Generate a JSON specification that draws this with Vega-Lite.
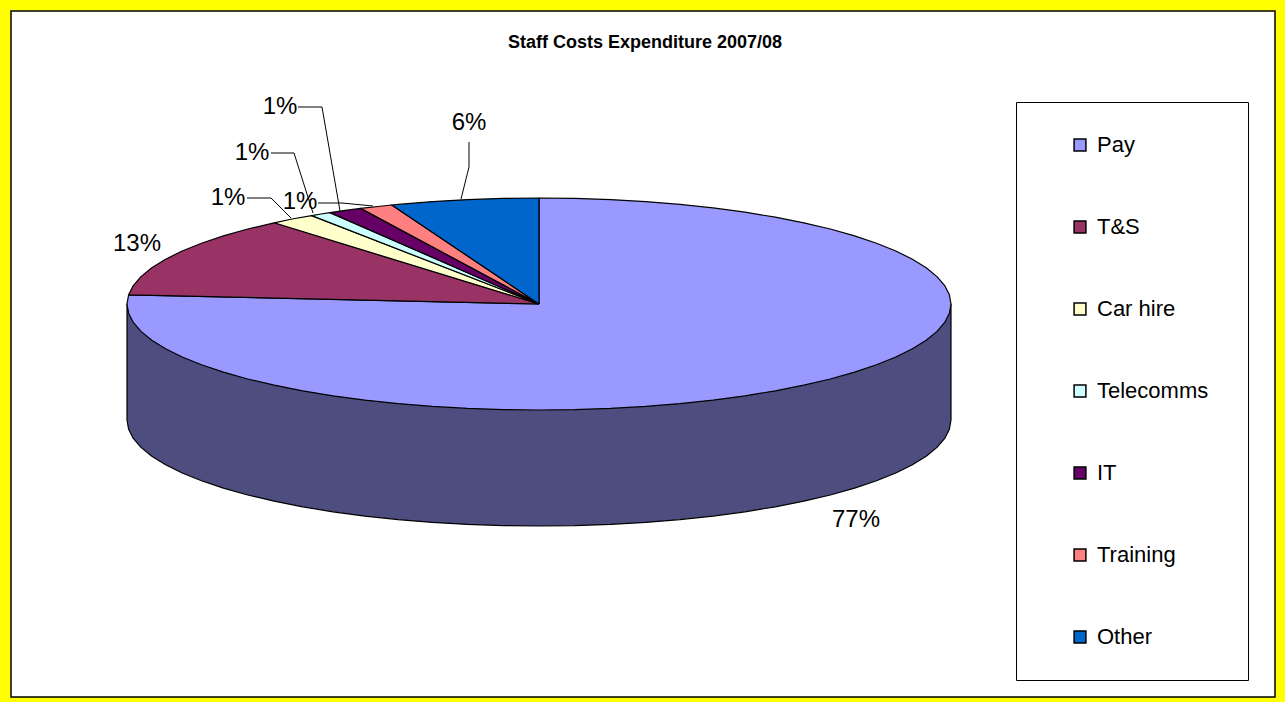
{
  "$schema": "https://vega.github.io/schema/vega-lite/v6.json",
  "autosize": {"type": "fit", "contains": "padding"},
  "width": 1285,
  "height": 702,
  "padding": {"left": 11, "top": 11, "right": 10, "bottom": 5},
  "background": "#FFFF00",
  "view": {"fill": "#FFFFFF", "stroke": "#000000", "strokeWidth": 1.5},
  "title": {
    "text": "Staff Costs Expenditure 2007/08",
    "anchor": "middle",
    "offset": -41,
    "dx": 2,
    "font": "Liberation Sans",
    "fontSize": 18,
    "fontWeight": "bold",
    "color": "#000000"
  },
  "config": {"text": {"font": "Liberation Sans"}},
  "datasets": {
    "rim": [
      {"i":0,"x":951,"y":304},{"i":1,"x":951,"y":420},{"i":2,"x":949.4,"y":429.2},{"i":3,"x":944.7,"y":438.4},{"i":4,"x":937,"y":447.4},{"i":5,"x":926.2,"y":456.3},{"i":6,"x":912.4,"y":464.8},{"i":7,"x":895.8,"y":473},{"i":8,"x":876.5,"y":480.8},{"i":9,"x":854.6,"y":488.1},{"i":10,"x":830.3,"y":495},{"i":11,"x":803.8,"y":501.2},{"i":12,"x":775.3,"y":506.8},{"i":13,"x":745,"y":511.8},{"i":14,"x":713.1,"y":516.1},{"i":15,"x":679.9,"y":519.6},{"i":16,"x":645.6,"y":522.4},{"i":17,"x":610.5,"y":524.4},{"i":18,"x":574.9,"y":525.6},{"i":19,"x":539,"y":526},{"i":20,"x":503.1,"y":525.6},{"i":21,"x":467.5,"y":524.4},{"i":22,"x":432.4,"y":522.4},{"i":23,"x":398.1,"y":519.6},{"i":24,"x":364.9,"y":516.1},{"i":25,"x":333,"y":511.8},{"i":26,"x":302.7,"y":506.8},{"i":27,"x":274.2,"y":501.2},{"i":28,"x":247.7,"y":495},{"i":29,"x":223.4,"y":488.1},{"i":30,"x":201.5,"y":480.8},{"i":31,"x":182.2,"y":473},{"i":32,"x":165.6,"y":464.8},{"i":33,"x":151.8,"y":456.3},{"i":34,"x":141,"y":447.4},{"i":35,"x":133.3,"y":438.4},{"i":36,"x":128.6,"y":429.2},{"i":37,"x":127,"y":420},{"i":38,"x":127,"y":304},{"i":39,"x":951,"y":304}
    ],
    "slices": [
      {"item":"Pay","i":0,"x":539,"y":304},{"item":"Pay","i":1,"x":539,"y":198},{"item":"Pay","i":2,"x":574.9,"y":198.4},{"item":"Pay","i":3,"x":610.5,"y":199.6},{"item":"Pay","i":4,"x":645.6,"y":201.6},{"item":"Pay","i":5,"x":679.9,"y":204.4},{"item":"Pay","i":6,"x":713.1,"y":207.9},{"item":"Pay","i":7,"x":745,"y":212.2},{"item":"Pay","i":8,"x":775.3,"y":217.2},{"item":"Pay","i":9,"x":803.8,"y":222.8},{"item":"Pay","i":10,"x":830.3,"y":229},{"item":"Pay","i":11,"x":854.6,"y":235.9},{"item":"Pay","i":12,"x":876.5,"y":243.2},{"item":"Pay","i":13,"x":895.8,"y":251},{"item":"Pay","i":14,"x":912.4,"y":259.2},{"item":"Pay","i":15,"x":926.2,"y":267.7},{"item":"Pay","i":16,"x":937,"y":276.6},{"item":"Pay","i":17,"x":944.7,"y":285.6},{"item":"Pay","i":18,"x":949.4,"y":294.8},{"item":"Pay","i":19,"x":951,"y":304},{"item":"Pay","i":20,"x":949.4,"y":313.2},{"item":"Pay","i":21,"x":944.7,"y":322.4},{"item":"Pay","i":22,"x":937,"y":331.4},{"item":"Pay","i":23,"x":926.2,"y":340.3},{"item":"Pay","i":24,"x":912.4,"y":348.8},{"item":"Pay","i":25,"x":895.8,"y":357},{"item":"Pay","i":26,"x":876.5,"y":364.8},{"item":"Pay","i":27,"x":854.6,"y":372.1},{"item":"Pay","i":28,"x":830.3,"y":379},{"item":"Pay","i":29,"x":803.8,"y":385.2},{"item":"Pay","i":30,"x":775.3,"y":390.8},{"item":"Pay","i":31,"x":745,"y":395.8},{"item":"Pay","i":32,"x":713.1,"y":400.1},{"item":"Pay","i":33,"x":679.9,"y":403.6},{"item":"Pay","i":34,"x":645.6,"y":406.4},{"item":"Pay","i":35,"x":610.5,"y":408.4},{"item":"Pay","i":36,"x":574.9,"y":409.6},{"item":"Pay","i":37,"x":539,"y":410},{"item":"Pay","i":38,"x":503.1,"y":409.6},{"item":"Pay","i":39,"x":467.5,"y":408.4},{"item":"Pay","i":40,"x":432.4,"y":406.4},{"item":"Pay","i":41,"x":398.1,"y":403.6},{"item":"Pay","i":42,"x":364.9,"y":400.1},{"item":"Pay","i":43,"x":333,"y":395.8},{"item":"Pay","i":44,"x":302.7,"y":390.8},{"item":"Pay","i":45,"x":274.2,"y":385.2},{"item":"Pay","i":46,"x":247.7,"y":379},{"item":"Pay","i":47,"x":223.4,"y":372.1},{"item":"Pay","i":48,"x":201.5,"y":364.8},{"item":"Pay","i":49,"x":182.2,"y":357},{"item":"Pay","i":50,"x":165.6,"y":348.8},{"item":"Pay","i":51,"x":151.8,"y":340.3},{"item":"Pay","i":52,"x":141,"y":331.4},{"item":"Pay","i":53,"x":133.3,"y":322.4},{"item":"Pay","i":54,"x":128.6,"y":313.2},{"item":"Pay","i":55,"x":127,"y":304},{"item":"Pay","i":56,"x":128.6,"y":294.8},{"item":"Pay","i":57,"x":539,"y":304},
      {"item":"T&S","i":0,"x":539,"y":304},{"item":"T&S","i":1,"x":128.6,"y":294.8},{"item":"T&S","i":2,"x":133.3,"y":285.6},{"item":"T&S","i":3,"x":141,"y":276.6},{"item":"T&S","i":4,"x":151.8,"y":267.7},{"item":"T&S","i":5,"x":165.6,"y":259.2},{"item":"T&S","i":6,"x":182.2,"y":251},{"item":"T&S","i":7,"x":201.5,"y":243.2},{"item":"T&S","i":8,"x":223.4,"y":235.9},{"item":"T&S","i":9,"x":247.7,"y":229},{"item":"T&S","i":10,"x":274.2,"y":222.8},{"item":"T&S","i":11,"x":539,"y":304},
      {"item":"Car hire","i":0,"x":539,"y":304},{"item":"Car hire","i":1,"x":274.2,"y":222.8},{"item":"Car hire","i":2,"x":292,"y":219},{"item":"Car hire","i":3,"x":311.7,"y":215.6},{"item":"Car hire","i":4,"x":539,"y":304},
      {"item":"Telecomms","i":0,"x":539,"y":304},{"item":"Telecomms","i":1,"x":311.7,"y":215.6},{"item":"Telecomms","i":2,"x":321,"y":214},{"item":"Telecomms","i":3,"x":330,"y":212.6},{"item":"Telecomms","i":4,"x":539,"y":304},
      {"item":"IT","i":0,"x":539,"y":304},{"item":"IT","i":1,"x":330,"y":212.6},{"item":"IT","i":2,"x":347,"y":210.2},{"item":"IT","i":3,"x":360.7,"y":208.4},{"item":"IT","i":4,"x":539,"y":304},
      {"item":"Training","i":0,"x":539,"y":304},{"item":"Training","i":1,"x":360.7,"y":208.4},{"item":"Training","i":2,"x":378,"y":206.5},{"item":"Training","i":3,"x":391.7,"y":205},{"item":"Training","i":4,"x":539,"y":304},
      {"item":"Other","i":0,"x":539,"y":304},{"item":"Other","i":1,"x":391.7,"y":205},{"item":"Other","i":2,"x":398.1,"y":204.4},{"item":"Other","i":3,"x":432.4,"y":201.6},{"item":"Other","i":4,"x":467.5,"y":199.6},{"item":"Other","i":5,"x":503.1,"y":198.4},{"item":"Other","i":6,"x":539,"y":198},{"item":"Other","i":7,"x":539,"y":304}
    ],
    "leaders": [
      {"item":"Car hire","i":0,"x":247,"y":198},{"item":"Car hire","i":1,"x":271,"y":198},{"item":"Car hire","i":2,"x":291,"y":218},
      {"item":"Telecomms","i":0,"x":271,"y":153},{"item":"Telecomms","i":1,"x":294,"y":153},{"item":"Telecomms","i":2,"x":313,"y":213},
      {"item":"IT","i":0,"x":298,"y":107},{"item":"IT","i":1,"x":322,"y":107},{"item":"IT","i":2,"x":340,"y":211},
      {"item":"Training","i":0,"x":318,"y":203},{"item":"Training","i":1,"x":342,"y":203},{"item":"Training","i":2,"x":373,"y":206},
      {"item":"Other","i":0,"x":469,"y":142},{"item":"Other","i":1,"x":469,"y":167},{"item":"Other","i":2,"x":461,"y":199}
    ],
    "labels": [
      {"item":"Pay","label":"77%","x":856,"y":520},
      {"item":"T&S","label":"13%","x":137,"y":244},
      {"item":"Car hire","label":"1%","x":228,"y":198},
      {"item":"Telecomms","label":"1%","x":252,"y":153},
      {"item":"IT","label":"1%","x":280,"y":107},
      {"item":"Training","label":"1%","x":300,"y":202},
      {"item":"Other","label":"6%","x":469,"y":123}
    ]
  },
  "encoding": {
    "x": {"field": "x", "type": "quantitative", "axis": null, "scale": {"domain": [11, 1275], "nice": false, "zero": false}},
    "y": {"field": "y", "type": "quantitative", "axis": null, "scale": {"domain": [697, 11], "nice": false, "zero": false}}
  },
  "layer": [
    {
      "data": {"name": "rim"},
      "mark": {"type": "line", "fill": "#4D4D80", "stroke": "#000000", "strokeWidth": 1.2, "strokeJoin": "round"},
      "encoding": {"order": {"field": "i", "type": "quantitative"}}
    },
    {
      "data": {"name": "slices"},
      "mark": {"type": "line", "stroke": "#000000", "strokeWidth": 1.2, "strokeJoin": "round"},
      "encoding": {
        "order": {"field": "i", "type": "quantitative"},
        "fill": {
          "field": "item",
          "type": "nominal",
          "scale": {
            "domain": ["Pay", "T&S", "Car hire", "Telecomms", "IT", "Training", "Other"],
            "range": ["#9999FF", "#993366", "#FFFFCC", "#CCFFFF", "#660066", "#FF8080", "#0066CC"]
          },
          "legend": {
            "orient": "none",
            "legendX": 1005,
            "legendY": 91,
            "title": " ",
            "titleOrient": "right",
            "titlePadding": 10,
            "titleFontSize": 1,
            "padding": 30,
            "symbolType": "square",
            "symbolSize": 140,
            "symbolStrokeColor": "#000000",
            "symbolStrokeWidth": 1.5,
            "symbolOffset": 23,
            "symbolOpacity": 1,
            "clipHeight": 26,
            "rowPadding": 56,
            "labelOffset": 6,
            "labelFont": "Liberation Sans",
            "labelFontSize": 22,
            "labelColor": "#000000",
            "labelLimit": 300,
            "strokeColor": "#000000",
            "fillColor": "#FFFFFF"
          }
        }
      }
    },
    {
      "data": {"name": "leaders"},
      "mark": {"type": "line", "stroke": "#000000", "strokeWidth": 1},
      "encoding": {
        "detail": {"field": "item"},
        "order": {"field": "i", "type": "quantitative"}
      }
    },
    {
      "data": {"name": "labels"},
      "mark": {"type": "text", "fontSize": 24, "color": "#000000", "align": "center", "baseline": "middle"},
      "encoding": {"text": {"field": "label"}}
    }
  ]
}
